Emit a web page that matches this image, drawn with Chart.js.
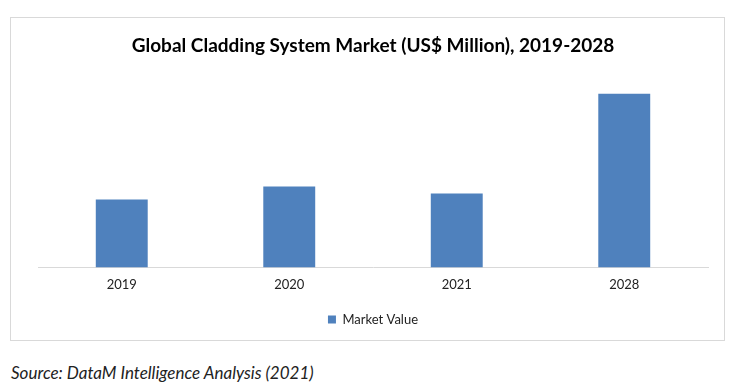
<!DOCTYPE html>
<html>
<head>
<meta charset="utf-8">
<script src="https://cdn.jsdelivr.net/npm/chart.js@4/dist/chart.umd.min.js"></script>
<style>
  body { margin: 0; background: #fff; width: 748px; height: 391px; position: relative; overflow: hidden; }
  #box { position: absolute; left: 10px; top: 17px; width: 713px; height: 322px; border: 1px solid #d9d9d9; }
  #source { position: absolute; left: 11px; top: 362px; font-family: Lato, sans-serif; font-style: italic; font-size: 17px; color: #222; }
</style>
</head>
<body>
<div id="box"><canvas id="chart" width="713" height="322"></canvas></div>
<div id="source">Source: DataM Intelligence Analysis (2021)</div>
<script>
const years = ['2019', '2020', '2021', '2028'];
const marketValue = [68, 81, 74, 174];
const seriesName = 'Market Value';
const chartTitle = 'Global Cladding System Market (US$ Million), 2019-2028';

const ctx = document.getElementById('chart').getContext('2d');
new Chart(ctx, {
    type: 'bar',
    data: {
        labels: years,
        datasets: [{
            label: seriesName,
            data: marketValue,
            backgroundColor: '#4f81bd',
            categoryPercentage: 1,
            barPercentage: 0.31
        }]
    },
    options: {
        responsive: false,
        animation: false,
        layout: { padding: { left: 27, right: 16, bottom: 4 } },
        plugins: {
            title: {
                display: true,
                text: chartTitle,
                color: '#000',
                font: { family: 'Lato', size: 19, weight: 'bold' },
                padding: { top: 16, bottom: 11 }
            },
            legend: {
                position: 'bottom',
                labels: {
                    color: '#222',
                    font: { family: 'Lato', size: 13 },
                    boxWidth: 8,
                    boxHeight: 8,
                    padding: 18
                }
            },
            tooltip: { enabled: false }
        },
        scales: {
            x: {
                grid: { display: false },
                border: { color: '#d9d9d9' },
                ticks: { color: '#222', font: { family: 'Lato', size: 13 }, padding: 2 }
            },
            y: {
                display: false,
                min: 0,
                max: 200
            }
        }
    }
});
</script>
</body>
</html>
